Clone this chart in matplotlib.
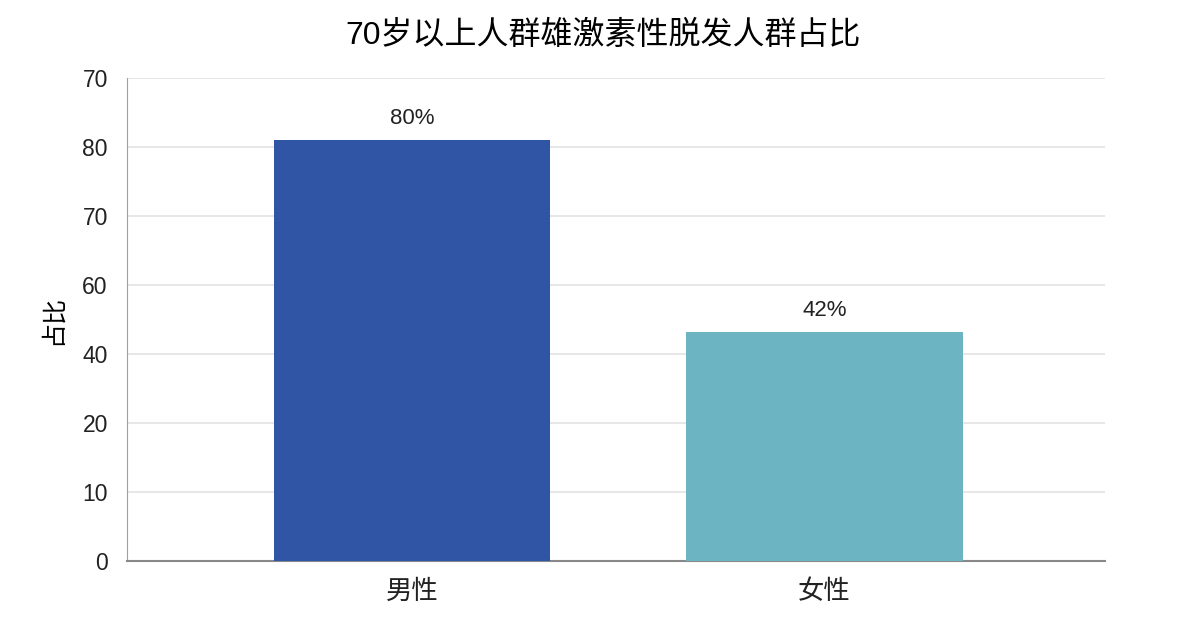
import matplotlib
matplotlib.use("Agg")
import matplotlib.pyplot as plt
import numpy as np

plt.rcParams['font.family'] = ['Liberation Sans', 'Noto Sans CJK SC', 'DejaVu Sans']

# data
categories = ['男性', '女性']
bar_heights = [6.1, 3.32]          # height on the (evenly spaced) tick scale
bar_labels = ['80%', '42%']
bar_colors = ['#2f55a4', '#6cb4c1']
ytick_pos = [0, 1, 2, 3, 4, 5, 6, 7]
ytick_labels = ['0', '10', '20', '40', '60', '70', '80', '70']

fig = plt.figure(figsize=(12, 6.36), dpi=100)
ax = fig.add_axes([0.106, 0.118, 0.815, 0.759])

x = np.arange(len(categories))
bars = ax.bar(x, bar_heights, width=0.67, color=bar_colors, zorder=3)

for b, lab in zip(bars, bar_labels):
    ax.annotate(lab, (b.get_x() + b.get_width() / 2, b.get_height()),
                xytext=(0, 8), textcoords='offset points',
                ha='center', va='bottom', fontsize=16, color='#222222')

ax.set_xlim(-0.69, 1.68)
ax.set_ylim(0, 7)
ax.set_xticks(x)
ax.set_xticklabels(categories, fontsize=19, family=['Noto Sans CJK SC'])
ax.set_yticks(ytick_pos)
ax.set_yticklabels(ytick_labels, fontsize=16.5)
ax.tick_params(axis='both', length=0, colors='#222222')
ax.tick_params(axis='y', pad=14)
ax.tick_params(axis='x', pad=12)

ax.grid(axis='y', color='#e3e3e3', linewidth=1.2, zorder=0)
for s in ['top', 'right']:
    ax.spines[s].set_visible(False)
ax.spines['left'].set_color('#a0a0a0')
ax.spines['bottom'].set_color('#888888')
ax.spines['bottom'].set_linewidth(1.5)

ax.set_ylabel('占比', fontsize=18, labelpad=12, family=['Noto Sans CJK SC'])
fig.suptitle('70岁以上人群雄激素性脱发人群占比', fontsize=23, x=0.503, y=0.968)

fig.savefig('out.png', dpi=100)
